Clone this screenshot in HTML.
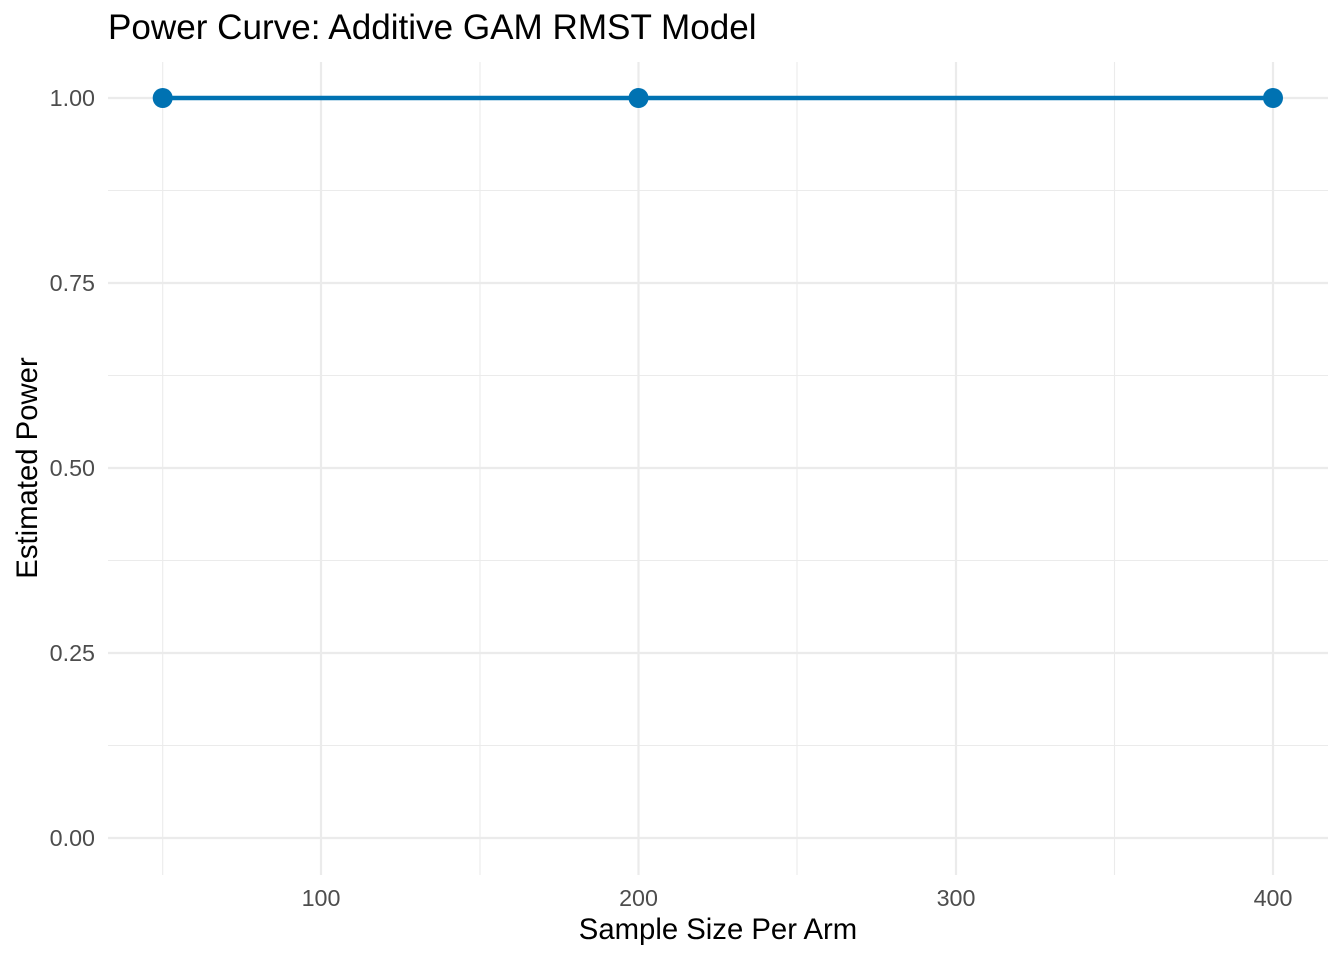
<!DOCTYPE html>
<html><head><style>body{margin:0;background:#fff}</style></head><body>
<svg width="1344" height="960" xmlns="http://www.w3.org/2000/svg" font-family="Liberation Sans, Arial, sans-serif">
<rect width="1344" height="960" fill="#fff"/>
<g stroke="#ebebeb" stroke-width="1.1">
<line x1="108" x2="1328" y1="190.5" y2="190.5"/><line x1="108" x2="1328" y1="375.5" y2="375.5"/>
<line x1="108" x2="1328" y1="560.5" y2="560.5"/><line x1="108" x2="1328" y1="745.5" y2="745.5"/>
<line y1="62" y2="875" x1="162.7" x2="162.7"/><line y1="62" y2="875" x1="480" x2="480"/>
<line y1="62" y2="875" x1="797" x2="797"/><line y1="62" y2="875" x1="1114.5" x2="1114.5"/>
</g>
<g stroke="#ebebeb" stroke-width="2.2">
<line x1="108" x2="1328" y1="98" y2="98"/><line x1="108" x2="1328" y1="283" y2="283"/>
<line x1="108" x2="1328" y1="468" y2="468"/><line x1="108" x2="1328" y1="653" y2="653"/>
<line x1="108" x2="1328" y1="838" y2="838"/>
<line y1="62" y2="875" x1="321" x2="321"/><line y1="62" y2="875" x1="638.5" x2="638.5"/>
<line y1="62" y2="875" x1="956" x2="956"/><line y1="62" y2="875" x1="1273" x2="1273"/>
</g>
<line x1="162.7" x2="1273" y1="98" y2="98" stroke="#0072b2" stroke-width="4.5"/>
<g fill="#0072b2"><circle cx="162.7" cy="98" r="10"/><circle cx="638.5" cy="98" r="10"/><circle cx="1273" cy="98" r="10"/></g>
<g font-size="23.3" fill="#4d4d4d" text-anchor="end">
<text x="95" y="106">1.00</text><text x="95" y="291">0.75</text><text x="95" y="476">0.50</text><text x="95" y="661">0.25</text><text x="95" y="846">0.00</text>
</g>
<g font-size="23.3" fill="#4d4d4d" text-anchor="middle">
<text x="321" y="906">100</text><text x="638.5" y="906">200</text><text x="956" y="906">300</text><text x="1273" y="906">400</text>
</g>
<text x="718" y="939" font-size="29.3" text-anchor="middle">Sample Size Per Arm</text>
<text transform="translate(37,468) rotate(-90)" font-size="29.3" text-anchor="middle">Estimated Power</text>
<text x="108" y="39" font-size="35.1">Power Curve: Additive GAM RMST Model</text>
</svg>
</body></html>
